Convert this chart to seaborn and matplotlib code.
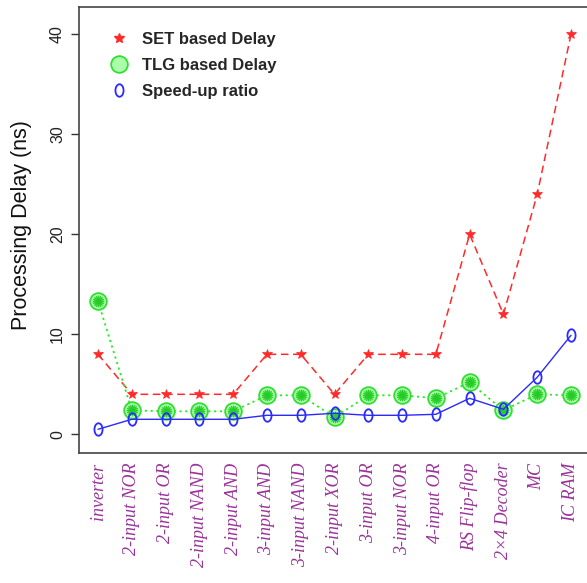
import matplotlib
matplotlib.use("Agg")
import matplotlib.pyplot as plt
from matplotlib.lines import Line2D
from matplotlib.path import Path
import seaborn as sns
import pandas as pd
import numpy as np

categories = ["inverter", "2-input NOR", "2-input OR", "2-input NAND", "2-input AND",
              "3-input AND", "3-input NAND", "2-input XOR", "3-input OR", "3-input NOR",
              "4-input OR", "RS Flip-flop", "2\u00d74 Decoder", "MC", "IC RAM"]
set_delay = [8, 4, 4, 4, 4, 8, 8, 4, 8, 8, 8, 20, 12, 24, 40]
tlg_delay = [13.3, 2.4, 2.3, 2.3, 2.3, 3.9, 3.9, 1.7, 3.9, 3.9, 3.6, 5.2, 2.4, 4.0, 3.9]
speedup = [0.5, 1.5, 1.5, 1.5, 1.5, 1.9, 1.9, 2.1, 1.9, 1.9, 2.0, 3.6, 2.5, 5.7, 9.9]
yticks = [0, 10, 20, 30, 40]

sns.set_style("white")
plt.rcParams["font.family"] = ["Liberation Sans", "DejaVu Sans"]

df = pd.DataFrame({"idx": range(len(categories)), "set": set_delay,
                   "tlg": tlg_delay, "sp": speedup})

fig = plt.figure(figsize=(5.87, 5.83), dpi=100)
W, H = 587, 583
ax = fig.add_axes([79 / W, (H - 453) / H, (605 - 79) / W, (453 - 7) / H])

red = "#ff2a2a"
green = "#22ee22"
blue = "#2a2aff"

# tall thin ellipse marker resembling an "o"/"0"
circ = Path.unit_circle()
oval = Path(circ.vertices * np.array([0.65, 1.0]), circ.codes)

sns.lineplot(data=df, x="idx", y="set", ax=ax, color=red, linestyle=(0, (5, 3)),
             linewidth=1.1, marker="*", markersize=7, markeredgewidth=0.5,
             markerfacecolor=red, markeredgecolor=red)
sns.lineplot(data=df, x="idx", y="tlg", ax=ax, color=green, linestyle=(0, (1.2, 2)),
             linewidth=1.3, marker="o", markersize=12, markerfacecolor="#aaffaa",
             markeredgecolor="#33dd33", markeredgewidth=1.3)
ax.plot(df["idx"], df["tlg"], linestyle="none", marker="$\u273A$", markersize=8,
        color="#22cc22", markeredgewidth=0.3)
sns.lineplot(data=df, x="idx", y="sp", ax=ax, color=blue, linestyle="-",
             linewidth=1.0, marker=oval, markersize=9,
             markerfacecolor="none", markeredgecolor=blue, markeredgewidth=1.3)

step = (571 - 98) / 14
ax.set_xlim(-(98 - 79) / step, 14 + (605 - 571) / step)
ax.set_ylim(-(453 - 434.3) / 10.0, 40 + (34.3 - 7) / 10.0)

ax.set_yticks(yticks)
ax.set_yticklabels([str(v) for v in yticks], rotation=90, va="center", fontsize=11.5,
                   color="#222222")
ax.tick_params(axis="y", direction="out", length=6, width=1, color="#333333", pad=4, left=True)
ax.set_xticks(range(len(categories)))
ax.set_xticklabels(categories, rotation=90, ha="center", va="top", fontsize=13,
                   color="#993399", family=["Liberation Serif", "DejaVu Serif"],
                   style="italic")
ax.tick_params(axis="x", length=0, pad=7)
ax.set_xlabel("")
ax.set_ylabel("Processing Delay (ns)", fontsize=15.5, color="#111111")
ax.yaxis.set_label_coords(-(79 - 32) / (605 - 79), (453 - 225) / 446)

for s in ax.spines.values():
    s.set_visible(True)
    s.set_color("#444444")
    s.set_linewidth(1.2)

handles = [
    Line2D([], [], linestyle="none", marker="*", markersize=7, color=red),
    Line2D([], [], linestyle="none", marker="o", markersize=12, markerfacecolor="#aaffaa",
           markeredgecolor="#33dd33", markeredgewidth=1.3),
    Line2D([], [], linestyle="none", marker=oval, markersize=9, markerfacecolor="none",
           markeredgecolor=blue, markeredgewidth=1.3),
]
leg = ax.legend(handles, ["SET based Delay", "TLG based Delay", "Speed-up ratio"],
                loc="upper left", bbox_to_anchor=((104 - 79) / (605 - 79), (453 - 25) / 446),
                frameon=False, fontsize=12, handlelength=1.0, handletextpad=0.9,
                labelspacing=0.68, borderaxespad=0)
for t in leg.get_texts():
    t.set_fontweight("bold")

fig.savefig("out.png", dpi=100)
